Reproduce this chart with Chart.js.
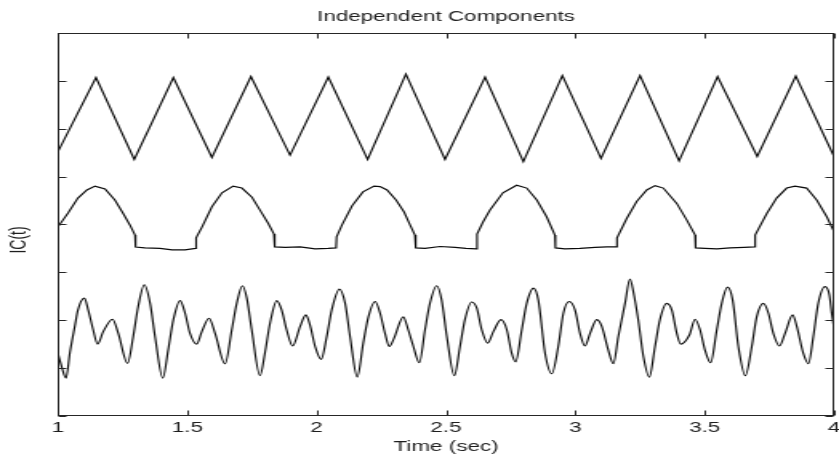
<!DOCTYPE html>
<html>
<head>
<meta charset="utf-8">
<title>Independent Components</title>
<script src="https://cdn.jsdelivr.net/npm/chart.js@4/dist/chart.umd.min.js"></script>
<style>
  html, body { margin: 0; padding: 0; background: #fff; overflow: hidden; }
  /* the figure is drawn on a narrow canvas and widened, like a stretched MATLAB export */
  #wrap { width: 524px; height: 459px; transform: scaleX(1.6011); transform-origin: 0 0; }
  canvas { display: block; }
</style>
</head>
<body>
<div id="wrap"><canvas id="chart" width="524" height="459"></canvas></div>
<script>
// ---- axis ticks ----
const timeTicks = [1, 1.5, 2, 2.5, 3, 3.5, 4];
const timeTickLabels = ['1', '1.5', '2', '2.5', '3', '3.5', '4'];
const levelTicks = [0, 1, 2, 3, 4, 5, 6, 7, 8];

// ---- IC 1: triangle wave (vertices) ----
const ic1Time = [1.000, 1.147, 1.295, 1.446, 1.595, 1.746, 1.897, 2.045, 2.197, 2.345,
                 2.496, 2.651, 2.799, 2.950, 3.099, 3.250, 3.401, 3.550, 3.703, 3.852, 4.000];
const ic1Value = [5.52, 7.07, 5.36, 7.07, 5.40, 7.09, 5.45, 7.08, 5.36, 7.14,
                  5.36, 7.08, 5.31, 7.11, 5.38, 7.11, 5.33, 7.09, 5.42, 7.10, 5.42];

// ---- IC 2: clipped arches ----
const ic2Time = [
  1.000, 1.039, 1.077, 1.112, 1.143, 1.182, 1.220, 1.251, 1.278, 1.298, 1.300,
  1.336, 1.394, 1.441, 1.491, 1.532,
  1.534, 1.557, 1.595, 1.634, 1.677, 1.711, 1.750, 1.781, 1.812, 1.835, 1.838,
  1.878, 1.936, 1.994, 2.044, 2.075,
  2.077, 2.098, 2.137, 2.179, 2.222, 2.245, 2.272, 2.307, 2.338, 2.361, 2.380, 2.383,
  2.419, 2.477, 2.535, 2.577, 2.618,
  2.620, 2.643, 2.670, 2.720, 2.773, 2.812, 2.851, 2.889, 2.921, 2.923,
  2.960, 3.018, 3.076, 3.122, 3.159,
  3.161, 3.199, 3.237, 3.276, 3.308, 3.340, 3.392, 3.431, 3.463, 3.465,
  3.501, 3.548, 3.598, 3.652, 3.693,
  3.695, 3.740, 3.778, 3.817, 3.849, 3.894, 3.933, 3.972, 4.000];
const ic2Value = [
  3.95, 4.24, 4.55, 4.72, 4.80, 4.74, 4.51, 4.24, 3.99, 3.78, 3.53,
  3.51, 3.50, 3.47, 3.47, 3.50,
  3.72, 3.95, 4.37, 4.66, 4.80, 4.76, 4.57, 4.30, 4.03, 3.80, 3.53,
  3.52, 3.53, 3.49, 3.50, 3.51,
  3.74, 3.99, 4.39, 4.68, 4.80, 4.79, 4.72, 4.51, 4.26, 3.99, 3.78, 3.51,
  3.50, 3.54, 3.52, 3.50, 3.49,
  3.80, 4.05, 4.30, 4.66, 4.82, 4.76, 4.51, 4.16, 3.78, 3.51,
  3.49, 3.50, 3.52, 3.53, 3.53,
  3.72, 4.13, 4.48, 4.72, 4.81, 4.76, 4.44, 4.09, 3.78, 3.51,
  3.50, 3.49, 3.51, 3.52, 3.53,
  3.78, 4.23, 4.55, 4.76, 4.80, 4.76, 4.51, 4.16, 3.85];

// ---- IC 3: mixed oscillation ----
const ic3Time = [
  1.000, 1.012, 1.031, 1.046, 1.066, 1.077, 1.102, 1.117, 1.136, 1.153,
  1.175, 1.211, 1.233, 1.269, 1.291, 1.310, 1.334, 1.356, 1.375, 1.405,
  1.426, 1.446, 1.472, 1.491, 1.510, 1.536, 1.556, 1.584, 1.607, 1.646,
  1.672, 1.691, 1.713, 1.730, 1.749, 1.781, 1.800, 1.820, 1.846, 1.865,
  1.884, 1.907, 1.936, 1.958, 1.974, 1.994, 2.017, 2.039, 2.058, 2.088,
  2.110, 2.129, 2.157, 2.180, 2.200, 2.226, 2.245, 2.264, 2.281, 2.299,
  2.335, 2.354, 2.374, 2.397, 2.419, 2.438, 2.464, 2.483, 2.503, 2.532,
  2.554, 2.573, 2.599, 2.619, 2.638, 2.661, 2.683, 2.713, 2.735, 2.754,
  2.769, 2.793, 2.812, 2.838, 2.857, 2.883, 2.909, 2.934, 2.954, 2.976,
  2.999, 3.018, 3.037, 3.057, 3.083, 3.102, 3.127, 3.147, 3.166, 3.192,
  3.211, 3.224, 3.243, 3.263, 3.286, 3.308, 3.327, 3.353, 3.373, 3.392,
  3.407, 3.441, 3.463, 3.482, 3.501, 3.523, 3.547, 3.566, 3.588, 3.608,
  3.630, 3.657, 3.682, 3.701, 3.727, 3.746, 3.765, 3.789, 3.811, 3.840,
  3.856, 3.881, 3.901, 3.920, 3.939, 3.965, 3.982, 3.991, 4.000];
const ic3Value = [
  1.30, 1.07, 0.79, 1.32, 1.90, 2.21, 2.46, 2.21, 1.80, 1.50,
  1.76, 2.02, 1.73, 1.10, 1.66, 2.28, 2.74, 2.35, 1.66, 0.79,
  1.38, 2.01, 2.41, 2.15, 1.73, 1.50, 1.76, 2.04, 1.73, 1.09,
  1.80, 2.35, 2.72, 2.46, 1.80, 0.84, 1.31, 1.94, 2.41, 2.21,
  1.80, 1.46, 1.87, 2.11, 1.90, 1.45, 1.18, 1.66, 2.21, 2.65,
  2.35, 1.66, 0.81, 1.52, 2.07, 2.39, 2.15, 1.73, 1.45, 1.62,
  2.07, 1.80, 1.45, 1.11, 1.80, 2.35, 2.72, 2.42, 1.66, 0.84,
  1.45, 2.01, 2.38, 2.25, 1.80, 1.52, 1.76, 2.01, 1.80, 1.31,
  1.13, 1.80, 2.35, 2.67, 2.42, 1.31, 0.88, 1.45, 2.15, 2.39,
  2.21, 1.73, 1.46, 1.73, 2.01, 1.87, 1.38, 1.09, 1.66, 2.35,
  2.86, 2.60, 2.01, 1.24, 0.81, 1.45, 2.01, 2.35, 2.21, 1.73,
  1.50, 1.69, 2.02, 1.80, 1.38, 1.11, 1.80, 2.35, 2.69, 2.42,
  1.45, 0.84, 1.45, 2.07, 2.35, 2.15, 1.73, 1.46, 1.73, 2.11,
  1.87, 1.31, 1.09, 1.66, 2.35, 2.70, 2.53, 2.15, 1.83];

const FONT = "'Liberation Sans', Arial, Helvetica, sans-serif";
const TEXT = '#1e1e1e';
const toPoints = (ts, vs) => ts.map((t, i) => ({ x: t, y: vs[i] }));

// MATLAB-style box with inward ticks on all four sides, plus the y label
const axesBox = {
  id: 'axesBox',
  afterDraw(chart) {
    const { ctx, chartArea: a, scales: { x, y } } = chart;
    const L = Math.round(a.left) + 0.5, R = Math.round(a.right) - 0.5;
    const T = Math.round(a.top) + 0.5, B = Math.round(a.bottom) - 0.5;
    const len = 5;
    ctx.save();
    ctx.strokeStyle = '#262626';
    ctx.lineWidth = 1;
    ctx.strokeRect(L, T, R - L, B - T);
    ctx.beginPath();
    timeTicks.forEach(v => {
      const px = Math.round(x.getPixelForValue(v)) + 0.5;
      ctx.moveTo(px, B); ctx.lineTo(px, B - len);
      ctx.moveTo(px, T); ctx.lineTo(px, T + len);
    });
    levelTicks.forEach(v => {
      const py = Math.round(y.getPixelForValue(v)) + 0.5;
      ctx.moveTo(L, py); ctx.lineTo(L + len, py);
      ctx.moveTo(R, py); ctx.lineTo(R - len, py);
    });
    ctx.stroke();

    ctx.fillStyle = TEXT;
    ctx.font = '14px ' + FONT;
    ctx.textAlign = 'center';
    ctx.textBaseline = 'middle';
    ctx.translate(a.left - 24, (a.top + a.bottom) / 2 + 15.5);
    ctx.rotate(-Math.PI / 2);
    ctx.fillText('IC(t)', 0, 0);
    ctx.restore();
  }
};

const lineStyle = { borderColor: '#0a0a0a', borderWidth: 1.15, pointRadius: 0, fill: false };

new Chart(document.getElementById('chart'), {
  type: 'line',
  data: {
    datasets: [
      Object.assign({ label: 'IC 1', data: toPoints(ic1Time, ic1Value), tension: 0 }, lineStyle),
      Object.assign({ label: 'IC 2', data: toPoints(ic2Time, ic2Value), tension: 0 }, lineStyle),
      Object.assign({ label: 'IC 3', data: toPoints(ic3Time, ic3Value), cubicInterpolationMode: 'monotone' }, lineStyle)
    ]
  },
  options: {
    responsive: false,
    animation: false,
    devicePixelRatio: 1,
    layout: { padding: { left: 36.2, right: 3.1, top: 0, bottom: 0 } },
    scales: {
      x: {
        type: 'linear',
        min: 1,
        max: 4,
        afterBuildTicks: s => { s.ticks = timeTicks.map(v => ({ value: v })); },
        afterFit: s => { s.paddingLeft = 0; s.paddingRight = 0; },
        ticks: {
          callback: (v, i) => timeTickLabels[i],
          font: { family: FONT, size: 14 },
          color: TEXT,
          padding: 3.5,
          maxRotation: 0,
          autoSkip: false
        },
        grid: { display: false, drawTicks: false },
        border: { display: false },
        title: {
          display: true,
          text: 'Time (sec)',
          font: { family: FONT, size: 14 },
          color: TEXT,
          padding: { top: -1, bottom: 3.5 }
        }
      },
      y: {
        type: 'linear',
        min: 0,
        max: 8,
        display: false,
        afterBuildTicks: s => { s.ticks = levelTicks.map(v => ({ value: v })); }
      }
    },
    plugins: {
      legend: { display: false },
      tooltip: { enabled: false },
      title: {
        display: true,
        text: 'Independent Components',
        font: { family: FONT, size: 14, weight: 'normal' },
        color: TEXT,
        padding: { top: 8.3, bottom: 7.9 }
      }
    }
  },
  plugins: [axesBox]
});
</script>
</body>
</html>
